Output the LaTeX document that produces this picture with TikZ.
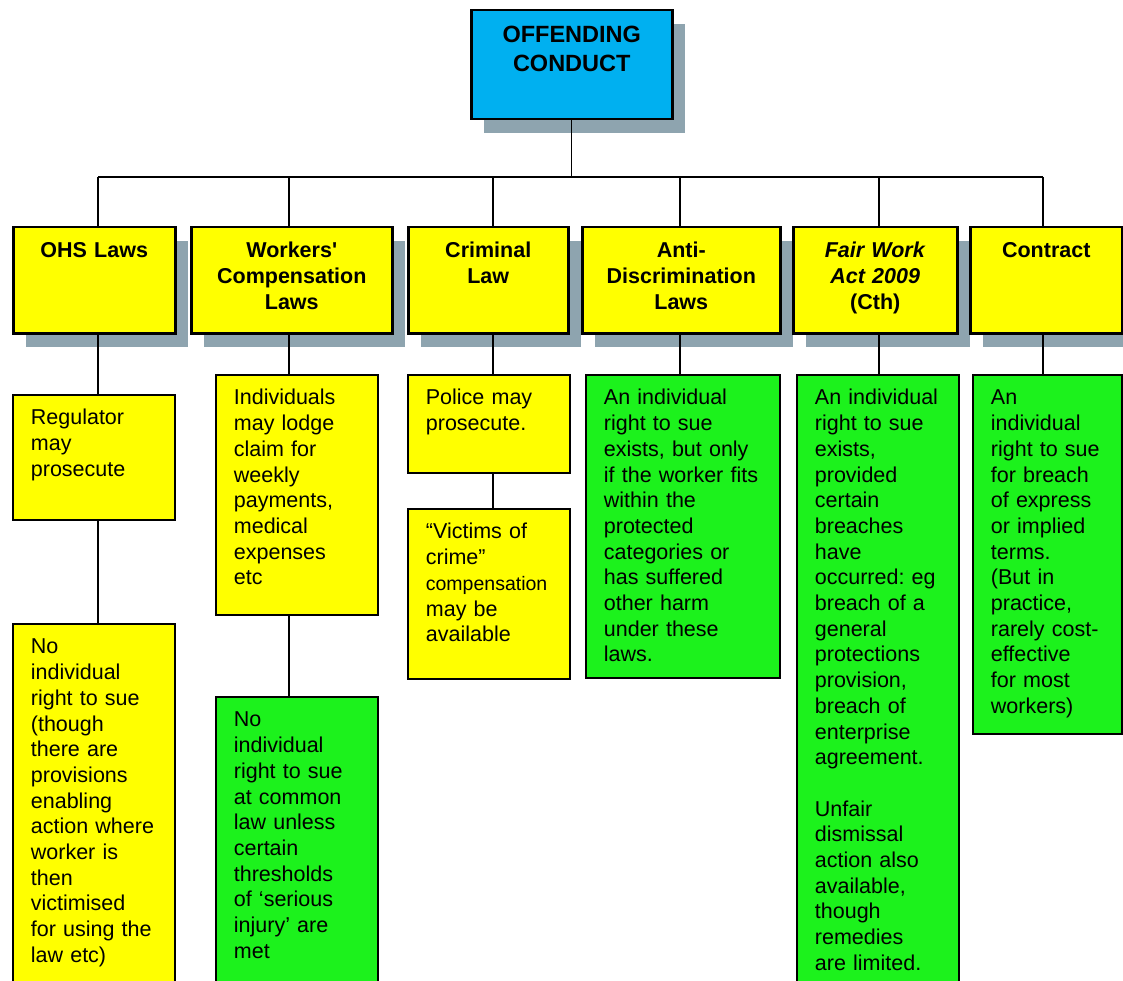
\documentclass[tikz,border=0pt]{standalone}
\usepackage{fontspec}
\setmainfont{Liberation Sans}
\usetikzlibrary{calc,positioning,shadows}
\definecolor{conductblue}{RGB}{0,176,240}
\definecolor{lawyellow}{RGB}{255,255,0}
\definecolor{suegreen}{RGB}{28,242,28}
\definecolor{shadowgray}{RGB}{142,164,175}
\frenchspacing

\begin{document}
\begin{tikzpicture}[x=1pt,y=-1pt,
        conn/.style={line width=1.3pt},
        lawshadow/.style={drop shadow={shadow xshift=13pt,shadow yshift=-14pt,fill=shadowgray,opacity=1}},
        lawbox/.style={draw,line width=2.5pt,fill=lawyellow,anchor=north west,align=center,inner xsep=4pt,inner ysep=14pt,text height=16pt,text depth=62pt,font=\fontsize{21.5}{26}\selectfont\bfseries,lawshadow},
        descbox/.style={draw,line width=1.8pt,anchor=north west,align=left,inner xsep=18pt,inner ysep=14pt,text height=16pt,font=\fontsize{21.5}{25.7}\selectfont}]
        \useasboundingbox (0,0) rectangle (1123,981);
        \node[lawbox,fill=conductblue,text width=193pt,font=\fontsize{23.5}{29}\selectfont\bfseries,inner ysep=15.5pt,text height=17pt,text depth=61pt] (conduct) at (470,9) {OFFENDING\\CONDUCT};
        \node[lawbox,text width=154pt] (ohs) at (12,226) {OHS Laws};
        \node[lawbox,text width=193pt] (wcl) at (190,226) {Workers\textquotesingle\\Compensation\\Laws};
        \node[lawbox,text width=152pt] (crim) at (407,226) {Criminal\\Law};
        \node[lawbox,text width=190pt] (antid) at (581,226) {Anti-\\Discrimination\\Laws};
        \node[lawbox,text width=156pt] (fwa) at (792,226) {\textit{Fair Work}\\\textit{Act 2009}\\(Cth)};
        \node[lawbox,text width=144pt] (contract) at (969,226) {Contract};
        \node[descbox,fill=lawyellow,text width=126pt,text depth=81pt] (ohsreg) at (12,394) {Regulator\\may\\prosecute};
        \node[descbox,fill=lawyellow,text width=126pt,text depth=328pt] (ohsno) at (12,623) {No\\individual\\right to sue\\(though\\there are\\provisions\\enabling\\action where\\worker is\\then\\victimised\\for using the\\law etc)};
        \node[descbox,fill=lawyellow,text width=126pt,text depth=196pt] (wcclaim) at (215,374) {Individuals\\may lodge\\claim for\\weekly\\payments,\\medical\\expenses\\etc};
        \node[descbox,fill=suegreen,text width=126pt,text depth=255pt] (wcsue) at (215,696) {No\\individual\\right to sue\\at common\\law unless\\certain\\thresholds\\of ‘serious\\injury’ are\\met};
        \node[descbox,fill=lawyellow,text width=126pt,text depth=54pt] (police) at (407,374) {Police may\\prosecute.};
        \node[descbox,fill=lawyellow,text width=126pt,text depth=126pt] (victims) at (407,508) {“Victims of\\crime”\\{\fontsize{19.5}{25.7}\selectfont compensation}\\may be\\available};
        \node[descbox,fill=suegreen,text width=158pt,text depth=259pt] (antisue) at (585,374) {An individual\\right to sue\\exists, but only\\if the worker fits\\within the\\protected\\categories or\\has suffered\\other harm\\under these\\laws.};
        \node[descbox,fill=suegreen,text width=126pt,text depth=577pt] (fwasue) at (796,374) {An individual\\right to sue\\exists,\\provided\\certain\\breaches\\have\\occurred: eg\\breach of a\\general\\protections\\provision,\\breach of\\enterprise\\agreement.\\[25.7pt]Unfair\\dismissal\\action also\\available,\\though\\remedies\\are limited.};
        \node[descbox,fill=suegreen,text width=113pt,text depth=315pt] (consue) at (972,374) {An\\individual\\right to sue\\for breach\\of express\\or implied\\terms.\\(But in\\practice,\\rarely cost-\\effective\\for most\\workers)};
        \coordinate (d1) at (98,177);
        \coordinate (d2) at (289,177);
        \coordinate (d3) at (493,177);
        \coordinate (d4) at (680,177);
        \coordinate (d5) at (879,177);
        \coordinate (d6) at (1043,177);
        \draw[conn] (conduct.south) -- (conduct.south |- d1);
        \draw[conn] (d1) -- (d6);
        \foreach \d/\dn in {d1/ohs,d2/wcl,d3/crim,d4/antid,d5/fwa,d6/contract}
            \draw[conn] (\d) -- (\d |- \dn.north);
        \foreach \d/\up/\dn in {d1/ohs/ohsreg,d1/ohsreg/ohsno,d2/wcl/wcclaim,d2/wcclaim/wcsue,d3/crim/police,d3/police/victims,d4/antid/antisue,d5/fwa/fwasue,d6/contract/consue}
            \draw[conn] (\d |- \up.south) -- (\d |- \dn.north);
    \end{tikzpicture}
\end{document}
